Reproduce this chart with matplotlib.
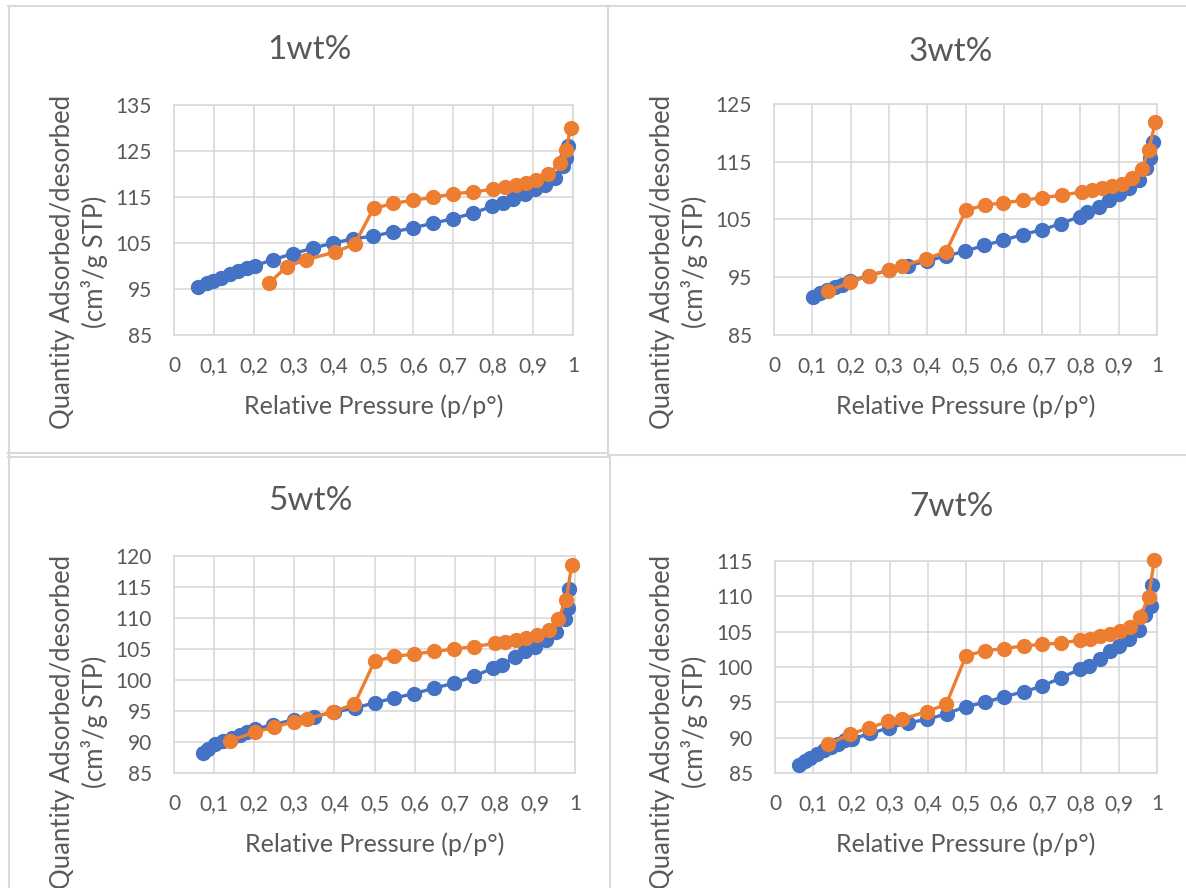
import matplotlib
matplotlib.use("Agg")
import matplotlib.pyplot as plt
from matplotlib.lines import Line2D
from matplotlib.ticker import FuncFormatter

plt.rcParams['font.family'] = ['Lato', 'DejaVu Sans']

# 1wt%
p1_ads = [0.061, 0.082, 0.098, 0.119, 0.14, 0.161, 0.182, 0.203, 0.249, 0.299, 0.349, 0.399, 0.449, 0.499,
          0.549, 0.599, 0.649, 0.70, 0.75, 0.798, 0.825, 0.85, 0.879, 0.904, 0.929, 0.954, 0.975, 0.983, 0.987]
q1_ads = [95.5, 96.3, 96.7, 97.4, 98.2, 98.9, 99.6, 100.1, 101.4, 102.7, 103.9, 105.0, 105.9, 106.5,
          107.4, 108.3, 109.3, 110.3, 111.5, 113.0, 113.6, 114.6, 115.6, 116.7, 117.7, 119.2, 121.7, 123.4, 126.1]
p1_des = [0.994, 0.982, 0.967, 0.937, 0.908, 0.883, 0.858, 0.829, 0.80, 0.75, 0.70, 0.649, 0.599, 0.549,
          0.50, 0.453, 0.403, 0.332, 0.282, 0.238]
q1_des = [129.9, 125.2, 122.3, 119.9, 118.8, 118.1, 117.6, 117.1, 116.7, 116.1, 115.7, 114.9, 114.3, 113.6,
          112.5, 104.8, 103.0, 101.4, 99.8, 96.3]

# 3wt%
p3_ads = [0.103, 0.12, 0.138, 0.159, 0.177, 0.199, 0.247, 0.299, 0.351, 0.399, 0.449, 0.499, 0.547, 0.599,
          0.649, 0.70, 0.749, 0.798, 0.817, 0.848, 0.874, 0.90, 0.926, 0.952, 0.972, 0.981, 0.99]
q3_ads = [91.5, 92.2, 92.8, 93.3, 93.7, 94.3, 95.3, 96.2, 97.0, 97.8, 98.7, 99.5, 100.5, 101.4,
          102.4, 103.2, 104.3, 105.5, 106.3, 107.2, 108.3, 109.4, 110.4, 111.8, 114.0, 115.6, 118.5]
p3_des = [0.996, 0.978, 0.961, 0.935, 0.909, 0.882, 0.856, 0.83, 0.804, 0.752, 0.70, 0.649, 0.599, 0.55,
          0.501, 0.449, 0.396, 0.334, 0.299, 0.248, 0.199, 0.14]
q3_des = [121.9, 117.0, 113.8, 112.1, 111.2, 110.8, 110.4, 110.1, 109.8, 109.2, 108.8, 108.3, 107.9, 107.5,
          106.6, 99.4, 98.2, 96.9, 96.2, 95.3, 94.1, 92.6]

# 5wt%
p5_ads = [0.073, 0.086, 0.102, 0.123, 0.144, 0.165, 0.183, 0.202, 0.248, 0.299, 0.349, 0.399, 0.451, 0.50,
          0.549, 0.599, 0.649, 0.699, 0.748, 0.795, 0.817, 0.85, 0.875, 0.90, 0.927, 0.953, 0.975, 0.982, 0.986]
q5_ads = [88.3, 88.9, 89.6, 90.1, 90.6, 91.2, 91.6, 92.1, 92.8, 93.6, 94.1, 94.8, 95.5, 96.3,
          97.1, 97.8, 98.7, 99.5, 100.6, 101.9, 102.4, 103.7, 104.6, 105.4, 106.5, 107.7, 109.9, 111.6, 114.6]
p5_des = [0.992, 0.978, 0.958, 0.934, 0.904, 0.879, 0.853, 0.825, 0.80, 0.749, 0.699, 0.649, 0.599, 0.549,
          0.50, 0.45, 0.397, 0.331, 0.299, 0.25, 0.202, 0.14]
q5_des = [118.6, 112.9, 109.8, 108.1, 107.3, 106.7, 106.5, 106.2, 105.9, 105.4, 105.0, 104.6, 104.2, 103.8,
          103.0, 96.1, 94.9, 93.7, 93.3, 92.4, 91.6, 90.2]

# 7wt%
p7_ads = [0.064, 0.079, 0.092, 0.109, 0.127, 0.146, 0.166, 0.183, 0.201, 0.249, 0.299, 0.349, 0.399, 0.45,
          0.50, 0.55, 0.60, 0.651, 0.70, 0.749, 0.799, 0.821, 0.85, 0.876, 0.90, 0.926, 0.953, 0.969, 0.983, 0.987]
q7_ads = [86.1, 86.7, 87.1, 87.7, 88.2, 88.7, 89.1, 89.6, 89.8, 90.6, 91.4, 92.1, 92.6, 93.4,
          94.4, 95.0, 95.8, 96.5, 97.3, 98.5, 99.7, 100.1, 101.2, 102.2, 103.0, 104.0, 105.3, 107.3, 108.7, 111.6]
p7_des = [0.993, 0.978, 0.956, 0.93, 0.904, 0.878, 0.852, 0.825, 0.799, 0.749, 0.70, 0.651, 0.60, 0.55,
          0.50, 0.448, 0.397, 0.332, 0.297, 0.247, 0.197, 0.14]
q7_des = [115.1, 109.9, 107.1, 105.7, 105.1, 104.7, 104.4, 104.0, 103.8, 103.4, 103.2, 103.0, 102.6, 102.3,
          101.6, 94.7, 93.7, 92.6, 92.3, 91.4, 90.5, 89.1]

titles = ["1wt%", "3wt%", "5wt%", "7wt%"]
ylims = [(85, 135, 10), (85, 125, 10), (85, 120, 5), (85, 115, 5)]

W, H = 1186, 888
fig = plt.figure(figsize=(W / 100, H / 100), dpi=100)

def px_rect(left, top, right, bottom):
    return [left / W, 1 - bottom / H, (right - left) / W, (bottom - top) / H]

# plot area boxes in pixels (left, top, right, bottom)
boxes = [(174, 105, 573, 335), (774, 104, 1157, 335), (174, 556, 575, 773), (775, 561, 1157, 773)]
title_pos = [(310, 50), (951, 52), (310, 501), (951, 507)]
ylab_pos = [(79, 262), (679, 262), (79, 722), (679, 722)]

blue = "#4472C4"
orange = "#ED7D31"
grey_txt = "#595959"
grid_c = "#D9D9D9"

data = [(p1_ads, q1_ads, p1_des, q1_des), (p3_ads, q3_ads, p3_des, q3_des),
        (p5_ads, q5_ads, p5_des, q5_des), (p7_ads, q7_ads, p7_des, q7_des)]

xfmt = FuncFormatter(lambda v, pos: ("%g" % round(v, 1)).replace(".", ","))

for i in range(4):
    ax = fig.add_axes(px_rect(*boxes[i]))
    pa, qa, pd, qd = data[i]
    ax.plot(pa, qa, color=blue, lw=2.4, marker="o", ms=10, zorder=3, clip_on=False)
    ax.plot(pd, qd, color=orange, lw=2.4, marker="o", ms=10, zorder=4, clip_on=False)
    lo, hi, step = ylims[i]
    ax.set_xlim(0, 1)
    ax.set_ylim(lo, hi)
    ax.set_xticks([k / 10 for k in range(11)])
    ax.set_yticks(list(range(lo, hi + 1, step)))
    ax.xaxis.set_major_formatter(xfmt)
    ax.grid(True, color=grid_c, lw=1.2)
    ax.set_axisbelow(True)
    for s in ax.spines.values():
        s.set_color(grid_c)
        s.set_linewidth(1.2)
    ax.tick_params(length=0, labelsize=15, labelcolor=grey_txt)
    ax.tick_params(axis="y", pad=16)
    ax.tick_params(axis="x", pad=15)
    left, top, right, bottom = boxes[i]
    fig.text((left + right) / 2 / W, 1 - (bottom + 71) / H, "Relative Pressure (p/p°)", fontsize=18,
             color=grey_txt, ha="center", va="center")
    fig.text(title_pos[i][0] / W, 1 - title_pos[i][1] / H, titles[i], fontsize=24,
             color=grey_txt, ha="center", va="center")
    fig.text(ylab_pos[i][0] / W, 1 - ylab_pos[i][1] / H, "Quantity Adsorbed/desorbed\n(cm³/g STP)",
             fontsize=18.5, color=grey_txt, ha="center", va="center", rotation=90, linespacing=1.25)

# chart frames
frame_c = "#D9D9D9"
segs = [((8.5, 8.5), (6, 888)), ((8, 1186), (6, 6)), ((608, 608), (6, 453)), ((8, 608), (453, 453)),
        ((8, 610), (457, 457)), ((610, 610), (457, 888)), ((608, 1186), (455, 455))]
for xs, ys in segs:
    fig.add_artist(Line2D([x / W for x in xs], [1 - y / H for y in ys], color=frame_c, lw=1.5))

fig.savefig("out.png", dpi=100, facecolor="white")
